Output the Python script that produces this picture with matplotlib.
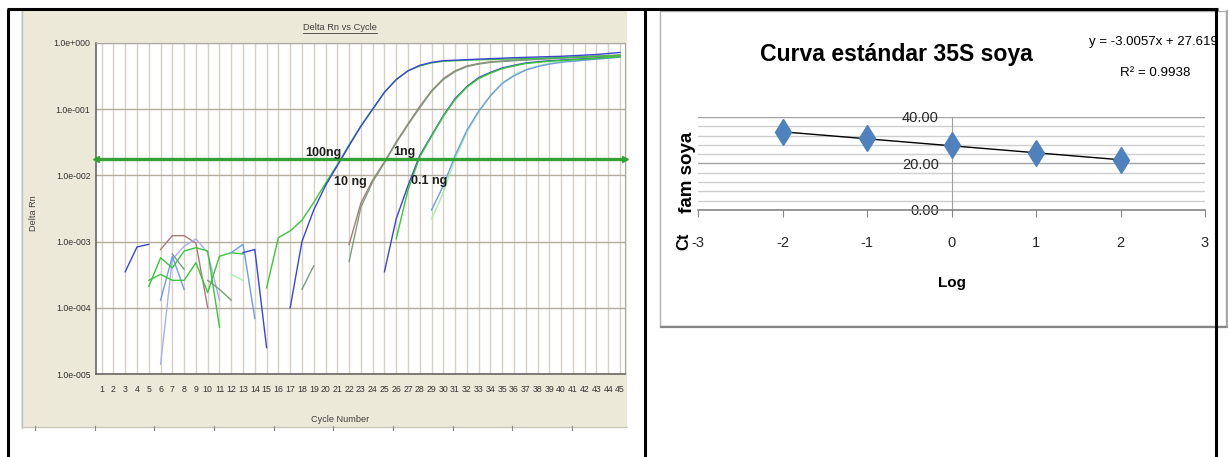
import numpy as np
import matplotlib
matplotlib.use("Agg")
import matplotlib.pyplot as plt
from matplotlib.patches import Rectangle
from matplotlib.ticker import NullLocator

W, H = 1229, 457

# ---------- amplificación qPCR (Delta Rn por ciclo) ----------
umbral = 0.0175

ciclos_100ng_a = [17, 18, 19, 20, 21, 22, 23, 24, 25, 26, 27, 28, 29, 30, 31, 33, 36, 40, 43, 45]
rn_100ng_a = [1.0e-4, 1.0e-3, 3.0e-3, 7.0e-3, 1.4e-2, 2.8e-2, 5.5e-2, 1.0e-1, 1.8e-1, 2.8e-1,
              3.8e-1, 4.6e-1, 5.1e-1, 5.4e-1, 5.5e-1, 5.7e-1, 6.0e-1, 6.3e-1, 6.7e-1, 7.2e-1]
ciclos_100ng_b = [15, 16, 17, 18, 19, 20, 21, 22, 23, 24, 25, 26, 27, 28, 29, 30, 32, 35, 40, 45]
rn_100ng_b = [2.0e-4, 1.15e-3, 1.45e-3, 2.1e-3, 3.9e-3, 7.6e-3, 1.45e-2, 2.9e-2, 5.6e-2, 1.0e-1,
              1.8e-1, 2.8e-1, 3.8e-1, 4.5e-1, 5.0e-1, 5.3e-1, 5.5e-1, 5.7e-1, 6.0e-1, 6.5e-1]

ciclos_10ng_a = [22, 23, 24, 25, 26, 27, 28, 29, 30, 31, 32, 33, 34, 36, 40, 45]
rn_10ng_a = [9.0e-4, 3.8e-3, 8.5e-3, 1.6e-2, 3.2e-2, 6.0e-2, 1.1e-1, 1.9e-1, 2.9e-1, 3.8e-1,
             4.5e-1, 4.9e-1, 5.2e-1, 5.5e-1, 6.0e-1, 6.6e-1]
ciclos_10ng_b = [22, 23, 24, 25, 26, 27, 28, 29, 30, 31, 32, 33, 34, 36, 40, 45]
rn_10ng_b = [5.0e-4, 3.3e-3, 8.0e-3, 1.55e-2, 3.1e-2, 5.8e-2, 1.05e-1, 1.85e-1, 2.8e-1, 3.7e-1,
             4.4e-1, 4.8e-1, 5.1e-1, 5.4e-1, 5.9e-1, 6.4e-1]

ciclos_1ng_a = [25, 26, 27, 28, 29, 30, 31, 32, 33, 34, 35, 36, 37, 39, 42, 45]
rn_1ng_a = [3.5e-4, 2.2e-3, 7.0e-3, 2.0e-2, 4.0e-2, 8.0e-2, 1.45e-1, 2.2e-1, 3.0e-1, 3.6e-1,
            4.2e-1, 4.6e-1, 5.0e-1, 5.4e-1, 5.8e-1, 6.3e-1]
ciclos_1ng_b = [26, 27, 28, 29, 30, 31, 32, 33, 34, 35, 36, 37, 39, 42, 45]
rn_1ng_b = [1.1e-3, 6.0e-3, 1.9e-2, 3.9e-2, 7.8e-2, 1.4e-1, 2.15e-1, 2.9e-1, 3.5e-1, 4.1e-1,
            4.5e-1, 4.9e-1, 5.3e-1, 5.7e-1, 6.2e-1]

ciclos_01ng_a = [29, 30, 31, 32, 33, 34, 35, 36, 37, 38, 39, 40, 42, 45]
rn_01ng_a = [2.2e-3, 5.5e-3, 1.8e-2, 4.5e-2, 9.0e-2, 1.6e-1, 2.5e-1, 3.3e-1, 4.0e-1, 4.5e-1,
             4.9e-1, 5.2e-1, 5.6e-1, 6.2e-1]
ciclos_01ng_b = [29, 30, 31, 32, 33, 34, 35, 36, 37, 38, 39, 40, 42, 45]
rn_01ng_b = [3.0e-3, 7.0e-3, 2.0e-2, 4.8e-2, 9.3e-2, 1.6e-1, 2.45e-1, 3.2e-1, 3.9e-1, 4.4e-1,
             4.8e-1, 5.1e-1, 5.5e-1, 6.1e-1]

# ruido de fondo en los primeros ciclos: (ciclo inicial, valores consecutivos)
ruido_1 = (3, [3.5e-4, 8.3e-4, 9.1e-4])
ruido_2 = (6, [7.6e-4, 1.23e-3, 1.23e-3, 9.5e-4, 1.0e-4])
ruido_3 = (6, [1.4e-5, 5.4e-4, 8.5e-4, 1.1e-3, 6.8e-4, 1.3e-4])
ruido_4 = (6, [1.3e-4, 6.0e-4, 1.9e-4])
ruido_5 = (5, [2.1e-4, 5.7e-4, 4.0e-4, 7.2e-4, 8.1e-4, 7.2e-4, 5.1e-5])
ruido_6 = (5, [2.6e-4, 3.2e-4, 2.6e-4, 2.6e-4, 4.8e-4, 1.7e-4, 6.0e-4, 6.8e-4, 6.5e-4])
ruido_7 = (7, [6.5e-4, 3.8e-4])
ruido_8 = (10, [2.6e-4, 1.9e-4, 1.3e-4])
ruido_9 = (12, [6.8e-4, 9.1e-4, 6.9e-5])
ruido_10 = (13, [6.8e-4, 7.6e-4, 2.5e-5])
ruido_11 = (12, [3.2e-4, 2.6e-4])
ruido_12 = (18, [1.9e-4, 4.3e-4])

# ---------- curva estándar ----------
log_conc = [-2, -1, 0, 1, 2]
ct_soya = [33.5, 31.0, 27.9, 24.7, 21.5]
pendiente = -3.0057
intercepto = 27.619
r2 = 0.9938

azul = "#3A46D0"
lavanda = "#A9ADF2"
verde = "#3CC43C"
verde_claro = "#A6EFA6"
cafe = "#A87A7A"
gris_verde = "#7C9C7C"
azul_claro = "#6F9DE0"

fuente = ["Liberation Sans", "DejaVu Sans"]

fig = plt.figure(figsize=(W / 100, H / 100), dpi=100)


def px_axes(x0, y0, x1, y1, **kw):
    return fig.add_axes([x0 / W, 1 - y1 / H, (x1 - x0) / W, (y1 - y0) / H], **kw)


# capa de fondo en pixeles
bg = fig.add_axes([0, 0, 1, 1], zorder=-1)
bg.set_xlim(0, W)
bg.set_ylim(H, 0)
bg.axis("off")

# panel beige del software
bg.add_patch(Rectangle((21, 10), 606, 418, facecolor="#ECE9D8", edgecolor="none", zorder=1))
bg.plot([21.5, 21.5], [10, 428], color="#B4C2DC", lw=1, zorder=2)
bg.plot([22, 627], [427, 427], color="#C9C6BA", lw=1, zorder=2)
for xt in np.linspace(35, 572, 10):
    bg.plot([xt, xt], [426, 430], color="#8A8A8A", lw=0.8, zorder=2)

# recuadro del gráfico de Excel
bg.add_patch(Rectangle((660, 11), 566, 315, facecolor="white", edgecolor="#B0B0B0", lw=1, zorder=1))
bg.plot([661, 1227], [326.5, 326.5], color="#858585", lw=1.6, zorder=2)
bg.plot([1226.5, 1226.5], [11, 327], color="#A0A0A0", lw=1.2, zorder=2)

# bordes de la tabla
for xs, ys in [([7, 1218], [9, 9]), ([8, 8], [9, H]), ([645, 645], [9, H]), ([1216, 1216], [9, H])]:
    bg.plot(xs, ys, color="black", lw=2.2, zorder=6, solid_capstyle="butt")

# ---------- gráfico de amplificación ----------
ax1 = px_axes(96, 43, 625, 374)
ax1.set_yscale("log")
ax1.set_xlim(0.52, 45.42)
ax1.set_ylim(1e-5, 1)

segmentos = [
    (ruido_1, azul), (ruido_2, cafe), (ruido_3, lavanda), (ruido_4, azul_claro),
    (ruido_5, verde), (ruido_6, verde), (ruido_7, gris_verde), (ruido_8, gris_verde),
    (ruido_9, azul_claro), (ruido_10, azul), (ruido_11, verde_claro), (ruido_12, gris_verde),
]
for (ini, vals), col in segmentos:
    ax1.plot(np.arange(ini, ini + len(vals)), vals, color=col, lw=1.0)

curvas = [
    (ciclos_01ng_a, rn_01ng_a, verde_claro), (ciclos_01ng_b, rn_01ng_b, azul_claro),
    (ciclos_1ng_a, rn_1ng_a, azul), (ciclos_1ng_b, rn_1ng_b, verde),
    (ciclos_10ng_a, rn_10ng_a, cafe), (ciclos_10ng_b, rn_10ng_b, gris_verde),
    (ciclos_100ng_b, rn_100ng_b, verde), (ciclos_100ng_a, rn_100ng_a, azul),
]
for cx, cy, col in curvas:
    ax1.plot(cx, cy, color=col, lw=1.0)

ax1.axhline(umbral, color="#35A035", lw=2.4, zorder=5)
ax1.plot([0.52], [umbral], marker="<", color="#35A035", ms=4, clip_on=False, zorder=5)
ax1.plot([45.42], [umbral], marker=">", color="#35A035", ms=4, clip_on=False, zorder=5)

etiquetas = [("100ng", 19.8, 0.0215), ("1ng", 26.7, 0.0225), ("10 ng", 22.1, 0.0079), ("0.1 ng", 28.8, 0.0081)]
for txt, cx, cy in etiquetas:
    ax1.text(cx, cy, txt, fontsize=9, fontweight="bold", color="#1E1E1E",
             ha="center", va="center", zorder=6, family=fuente)

ax1.set_xticks(range(1, 46))
ax1.set_xticklabels([str(c) for c in range(1, 46)], family=fuente)
decadas = [1e-5, 1e-4, 1e-3, 1e-2, 1e-1, 1.0]
ax1.set_yticks(decadas)
ax1.set_yticklabels(["1.0e-005", "1.0e-004", "1.0e-003", "1.0e-002", "1.0e-001", "1.0e+000"],
                    family=fuente)
ax1.yaxis.set_minor_locator(NullLocator())
ax1.tick_params(length=0, labelsize=6.3, colors="#333333")
ax1.tick_params(axis="x", pad=8)
ax1.tick_params(axis="y", pad=4)
ax1.grid(axis="x", color="#D6D1C4", lw=1.0)
ax1.grid(axis="y", color="#B3AB9B", lw=1.0)
ax1.set_axisbelow(True)
for s in ["left", "bottom"]:
    ax1.spines[s].set_color("#5A5A5A")
    ax1.spines[s].set_linewidth(1.1)
for s in ["top", "right"]:
    ax1.spines[s].set_color("#A8A8A8")
    ax1.spines[s].set_linewidth(0.8)

titulo = bg.text(340, 28, "Delta Rn vs Cycle", fontsize=6.7, color="#404040", ha="center",
                 va="center", family=fuente, zorder=3)
bg.text(33, 213, "Delta Rn", fontsize=6.6, color="#404040", ha="center", va="center",
        rotation=90, family=fuente, zorder=3)
bg.text(340, 419, "Cycle Number", fontsize=6.6, color="#404040", ha="center", va="center",
        family=fuente, zorder=3)

# ---------- curva estándar 35S ----------
ax2 = px_axes(698, 117, 1205, 210)
ax2.set_xlim(-3, 3)
ax2.set_ylim(0, 40)
ax2.spines["top"].set_visible(False)
ax2.spines["right"].set_visible(False)
ax2.spines["left"].set_position(("data", 0))
ax2.spines["left"].set_color("#A0A0A0")
ax2.spines["bottom"].set_color("#868686")
ax2.spines["bottom"].set_linewidth(1.2)
ax2.set_xticks(range(-3, 4))
ax2.set_xticklabels([str(v) for v in range(-3, 4)], family=fuente)
ax2.set_yticks([0, 20, 40])
ax2.set_yticklabels([f"{v:.2f}" for v in [0, 20, 40]], family=fuente)
ax2.set_yticks(np.arange(0, 41, 4), minor=True)
ax2.tick_params(axis="y", which="both", length=0, pad=9, labelsize=10.5, colors="#262626")
ax2.tick_params(axis="x", direction="out", length=5, color="#868686", pad=13.5, labelsize=10.5,
                labelcolor="#262626")
ax2.grid(axis="y", which="minor", color="#CDCDCD", lw=1)
ax2.grid(axis="y", which="major", color="#A3A3A3", lw=1)
ax2.set_axisbelow(True)

xt = np.array([min(log_conc), max(log_conc)])
ax2.plot(xt, pendiente * xt + intercepto, color="black", lw=1.0, zorder=3)
ax2.plot(log_conc, ct_soya, linestyle="none", marker="d", ms=13, color="#4F81BD", zorder=4,
         clip_on=False)

bg.text(896, 55, "Curva estándar 35S soya", fontsize=16.6, fontweight="bold", ha="center",
        va="center", family=fuente, zorder=3)
bg.text(1153, 42, f"y = {pendiente:.4f}x + {intercepto:.3f}", fontsize=9.5, ha="center",
        va="center", family=fuente, zorder=3)
bg.text(1155, 73, f"R² = {r2:.4f}", fontsize=9.6, ha="center", va="center",
        family=fuente, zorder=3)
bg.text(952, 283, "Log", fontsize=11, fontweight="bold", ha="center", va="center",
        family=fuente, zorder=3)
bg.text(688, 172, "fam soya", fontsize=13.5, fontweight="bold", ha="center", va="center",
        rotation=90, family=fuente, zorder=3)
bg.text(684, 241, "Ct", fontsize=12, fontweight="bold", ha="center", va="center",
        rotation=90, family=fuente, zorder=3)

# subrayado del título de la izquierda
fig.canvas.draw()
bb = titulo.get_window_extent().transformed(bg.transData.inverted())
bg.plot([bb.x0, bb.x1], [bb.y0 + 0.5, bb.y0 + 0.5], color="#404040", lw=0.6, zorder=3)

fig.savefig("out.png", dpi=100)
